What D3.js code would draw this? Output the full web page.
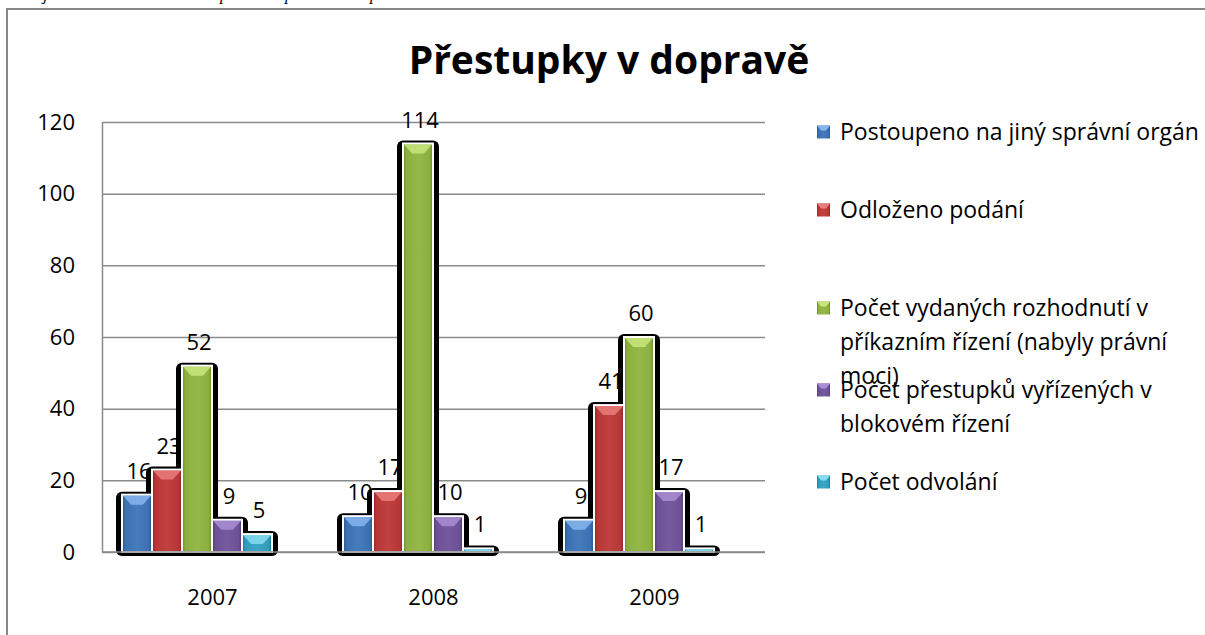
<!DOCTYPE html>
<html>
<head>
<meta charset="utf-8">
<script src="https://cdn.jsdelivr.net/npm/d3@7"></script>
<style>
  body { margin: 0; background: #fff; }
  svg { display: block; }
  text { font-family: "Open Sans", "Noto Sans", sans-serif; fill: #000; }
</style>
</head>
<body>
<div id="chart"></div>
<script>
const years = ["2007", "2008", "2009"]
const seriesNames = [
    "Postoupeno na jiný správní orgán",
    "Odloženo podání",
    "Počet vydaných rozhodnutí v příkazním řízení (nabyly právní moci)",
    "Počet přestupků vyřízených v blokovém řízení",
    "Počet odvolání"
]
const postoupeno = [16, 10, 9]
const odlozeno = [23, 17, 41]
const prikazni = [52, 114, 60]
const blokove = [9, 10, 17]
const odvolani = [5, 1, 1]
const yTicks = [0, 20, 40, 60, 80, 100, 120]
const titleText = "Přestupky v dopravě"
// the caption line above the chart is cut off by the page edge
const captionWords = ["Data jsou uvedena v", "počtu", "podání", "pro obec"]

const seriesValues = [postoupeno, odlozeno, prikazni, blokove, odvolani]

// fill, top bevel, dark edge
const palette = [
    { base: "#3b70b3", light: "#86b6ee", dark: "#2a5690" },
    { base: "#b83636", light: "#ea7d7d", dark: "#8e2626" },
    { base: "#8cb040", light: "#c8e67c", dark: "#6c8a2c" },
    { base: "#6c5196", light: "#a98ed3", dark: "#523b76" },
    { base: "#2f9cbc", light: "#86dcf0", dark: "#20778f" }
]

const W = 1205, H = 635,
    plotLeft = 102, plotRight = 765,
    plotTop = 122, plotBottom = 552;

const svg = d3.select("#chart").append("svg")
    .attr("width", W)
    .attr("height", H)

const defs = svg.append("defs")
palette.forEach((c, i) => {
    const g = defs.append("linearGradient").attr("id", "grad" + i)
        .attr("x1", 0).attr("x2", 1).attr("y1", 0).attr("y2", 0)
    g.append("stop").attr("offset", "0%").attr("stop-color", c.dark)
    g.append("stop").attr("offset", "12%").attr("stop-color", c.base)
    g.append("stop").attr("offset", "50%").attr("stop-color", d3.interpolateRgb(c.base, c.light)(0.15))
    g.append("stop").attr("offset", "88%").attr("stop-color", c.base)
    g.append("stop").attr("offset", "100%").attr("stop-color", c.dark)
})

const caption = svg.append("text")
    .attr("y", 0)
    .style("font-family", "'Liberation Serif', serif")
    .style("font-style", "italic")
    .style("font-size", "17px")
const captionX = [5, 220, 285, 370]
captionWords.forEach((w, i) => caption.append("tspan").attr("x", captionX[i]).text(w))

// outer frame
svg.append("rect")
    .attr("x", 7).attr("y", 9)
    .attr("width", W + 20).attr("height", H + 20)
    .attr("fill", "none")
    .attr("stroke", "#878787")
    .attr("stroke-width", 2)

svg.append("text")
    .attr("x", 609).attr("y", 74)
    .attr("text-anchor", "middle")
    .style("font-weight", "bold")
    .style("font-size", "39px")
    .text(titleText)

const y = d3.scaleLinear().domain([0, 120]).range([plotBottom, plotTop])
const x0 = d3.scaleBand().domain(years).range([plotLeft, plotRight])
const x1 = d3.scaleBand().domain(d3.range(seriesNames.length)).range([20, 170])

// gridlines + y labels
const yAxis = svg.append("g")
    .attr("transform", `translate(${plotLeft},0)`)
    .call(d3.axisLeft(y).tickValues(yTicks).tickSizeInner(-(plotRight - plotLeft)).tickSizeOuter(0).tickPadding(27))
yAxis.select(".domain").attr("stroke", "#8a8a8a").attr("stroke-width", 1.5)
yAxis.selectAll(".tick line").attr("stroke", "#8a8a8a").attr("stroke-width", 1.5)
yAxis.selectAll(".tick text")
    .style("font-size", "22px")
    .style("font-family", "'Open Sans', sans-serif")
    .attr("fill", "#000")

const bars = []
years.forEach((yr, gi) => {
    seriesValues.forEach((vals, si) => {
        bars.push({ year: yr, s: si, v: vals[gi] })
    })
})
const bx = d => x0(d.year) + x1(d.s)
const bw = x1.bandwidth()

// dark halo behind bars
svg.append("g").selectAll("rect").data(bars).enter().append("rect")
    .attr("x", d => bx(d) - 6)
    .attr("y", d => y(d.v) - 3)
    .attr("width", bw + 12)
    .attr("height", d => plotBottom - y(d.v) + 7)
    .attr("rx", 6)
    .attr("fill", "#000")

const bg = svg.append("g").selectAll("g").data(bars).enter().append("g")

bg.append("rect")
    .attr("x", d => bx(d))
    .attr("y", d => y(d.v))
    .attr("width", bw)
    .attr("height", d => plotBottom - y(d.v))
    .attr("fill", d => `url(#grad${d.s})`)
    .attr("stroke", "#fff")
    .attr("stroke-width", 2)

// top bevel
bg.append("path")
    .attr("d", d => {
        const x = bx(d) + 1, t = y(d.v) + 1, w = bw - 2
        const dep = Math.min(9, (plotBottom - y(d.v)) / 2)
        return `M${x},${t}H${x + w}L${x + w - dep * 0.9},${t + dep}H${x + dep * 0.9}Z`
    })
    .attr("fill", d => palette[d.s].light)
    .attr("opacity", 0.85)

// baseline
svg.append("line")
    .attr("x1", plotLeft).attr("x2", plotRight)
    .attr("y1", plotBottom).attr("y2", plotBottom)
    .attr("stroke", "#8a8a8a").attr("stroke-width", 1.5)

// data labels
svg.append("g").selectAll("text").data(bars).enter().append("text")
    .attr("x", d => bx(d) + bw / 2 + 2)
    .attr("y", d => y(d.v) - 16)
    .attr("text-anchor", "middle")
    .style("font-size", "22px")
    .text(d => d.v)

// category labels
svg.append("g").selectAll("text").data(years).enter().append("text")
    .attr("x", d => x0(d) + x0.bandwidth() / 2)
    .attr("y", 605)
    .attr("text-anchor", "middle")
    .style("font-size", "22px")
    .text(d => d)

// legend
const legendY = [132, 210, 308, 390, 482]
const lineH = 34
const lg = svg.append("g").selectAll("g").data(seriesNames).enter().append("g")
    .attr("transform", (d, i) => `translate(817,${legendY[i]})`)

lg.append("rect")
    .attr("x", 0).attr("y", -6.5)
    .attr("width", 13).attr("height", 13)
    .attr("fill", (d, i) => `url(#grad${i})`)
lg.append("path")
    .attr("d", "M0,-6.5H13L9,-1.5H4Z")
    .attr("fill", (d, i) => palette[i].light)

lg.append("text")
    .attr("x", 23)
    .attr("y", 8)
    .style("font-size", "23px")
    .each(function (d) {
        const t = d3.select(this)
        const words = d.split(" ")
        let line = []
        let ts = t.append("tspan").attr("x", 23).attr("dy", 0)
        words.forEach((w) => {
            line.push(w)
            ts.text(line.join(" "))
            if (ts.node().getComputedTextLength() > 365 && line.length > 1) {
                line.pop()
                ts.text(line.join(" "))
                line = [w]
                ts = t.append("tspan").attr("x", 23).attr("dy", lineH).text(w)
            }
        })
    })
</script>
</body>
</html>
